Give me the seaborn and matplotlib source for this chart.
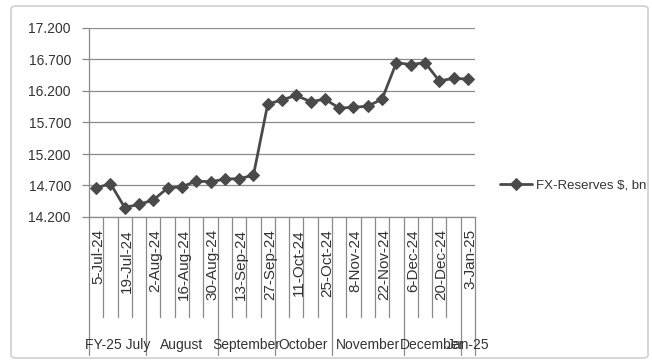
import matplotlib
matplotlib.use("Agg")
import matplotlib.pyplot as plt
import seaborn as sns
import pandas as pd
import numpy as np
from matplotlib.patches import FancyBboxPatch

dates = ["5-Jul-24", "12-Jul-24", "19-Jul-24", "26-Jul-24", "2-Aug-24", "9-Aug-24",
         "16-Aug-24", "23-Aug-24", "30-Aug-24", "6-Sep-24", "13-Sep-24", "20-Sep-24",
         "27-Sep-24", "4-Oct-24", "11-Oct-24", "18-Oct-24", "25-Oct-24", "1-Nov-24",
         "8-Nov-24", "15-Nov-24", "22-Nov-24", "29-Nov-24", "6-Dec-24", "13-Dec-24",
         "20-Dec-24", "27-Dec-24", "3-Jan-25"]
reserves = [14.66, 14.73, 14.35, 14.40, 14.47, 14.66, 14.68, 14.77, 14.76, 14.80,
            14.81, 14.86, 15.99, 16.06, 16.13, 16.03, 16.07, 15.93, 15.94, 15.96,
            16.07, 16.65, 16.62, 16.65, 16.36, 16.40, 16.39]
month_labels = ["FY-25 July", "August", "September", "October", "November", "December", "Jan-25"]
month_sizes = [4, 5, 4, 4, 5, 4, 1]
series_name = "FX-Reserves $, bn"
yticks = [14.2, 14.7, 15.2, 15.7, 16.2, 16.7, 17.2]

W, H = 652, 363
sns.set_theme(style="white")
plt.rcParams['font.family'] = ['Liberation Sans', 'DejaVu Sans']

fig = plt.figure(figsize=(W / 100, H / 100), dpi=100)
px_l, px_r, px_t, px_b = 89, 475, 28, 217
ax = fig.add_axes([px_l / W, 1 - px_b / H, (px_r - px_l) / W, (px_b - px_t) / H])

df = pd.DataFrame({"pos": np.arange(len(dates)), "value": reserves})
line_col = "#4a4a4a"
sns.lineplot(data=df, x="pos", y="value", ax=ax, color=line_col, lw=2.0,
             marker="D", markersize=6, markeredgecolor=line_col,
             markerfacecolor=line_col, label=series_name, legend=False)

ax.set_xlim(-0.5, len(dates) - 0.5)
ax.set_ylim(yticks[0], yticks[-1])
ax.set_yticks(yticks)
ax.set_yticklabels([f"{v:.3f}" for v in yticks], fontsize=10, color="#333333")
ax.tick_params(axis="y", length=5, width=0.9, color="#888888", left=True, pad=8)
ax.set_xticks([])
ax.set_xlabel("")
ax.set_ylabel("")
ax.grid(axis="y", color="#8a8a8a", lw=0.9)
for s in ["top", "right"]:
    ax.spines[s].set_visible(False)
ax.spines["left"].set_color("#8a8a8a")
ax.spines["bottom"].set_color("#8a8a8a")
ax.spines["left"].set_linewidth(0.9)
ax.spines["bottom"].set_linewidth(0.9)

ah = px_b - px_t
trans = ax.get_xaxis_transform()
short_end = -(317 - px_b) / ah
long_end = -(355 - px_b) / ah
boundaries = set(np.cumsum([0] + month_sizes).tolist())
for b in range(len(dates) + 1):
    end = long_end if b in boundaries else short_end
    ax.plot([b - 0.5, b - 0.5], [0, end], transform=trans, color="#8a8a8a",
            lw=0.9, clip_on=False)

for i, d in enumerate(dates):
    if i % 2 == 0:
        ax.text(i + 0.15, -(229 - px_b) / ah, d, transform=trans, rotation=90,
                ha="center", va="top", fontsize=11, color="#333333")

start = 0
for lab, n in zip(month_labels, month_sizes):
    ax.text(start - 0.5 + n / 2, -(345 - px_b) / ah, lab, transform=trans,
            ha="center", va="center", fontsize=10, color="#333333")
    start += n

handles, labels = ax.get_legend_handles_labels()
fig.legend(handles, labels, loc="center left", bbox_to_anchor=(488 / W, 1 - 185 / H),
           frameon=False, fontsize=9.5, handlelength=2.4, handletextpad=0.3,
           labelcolor="#333333")

fig.patches.append(FancyBboxPatch((11 / W, 1 - 358 / H), (648 - 11) / W, (358 - 6) / H,
                                  boxstyle="round,pad=0,rounding_size=0.008",
                                  transform=fig.transFigure, fill=False,
                                  edgecolor="#d0d0d0", lw=1.2))

fig.savefig("out.png", dpi=100)
